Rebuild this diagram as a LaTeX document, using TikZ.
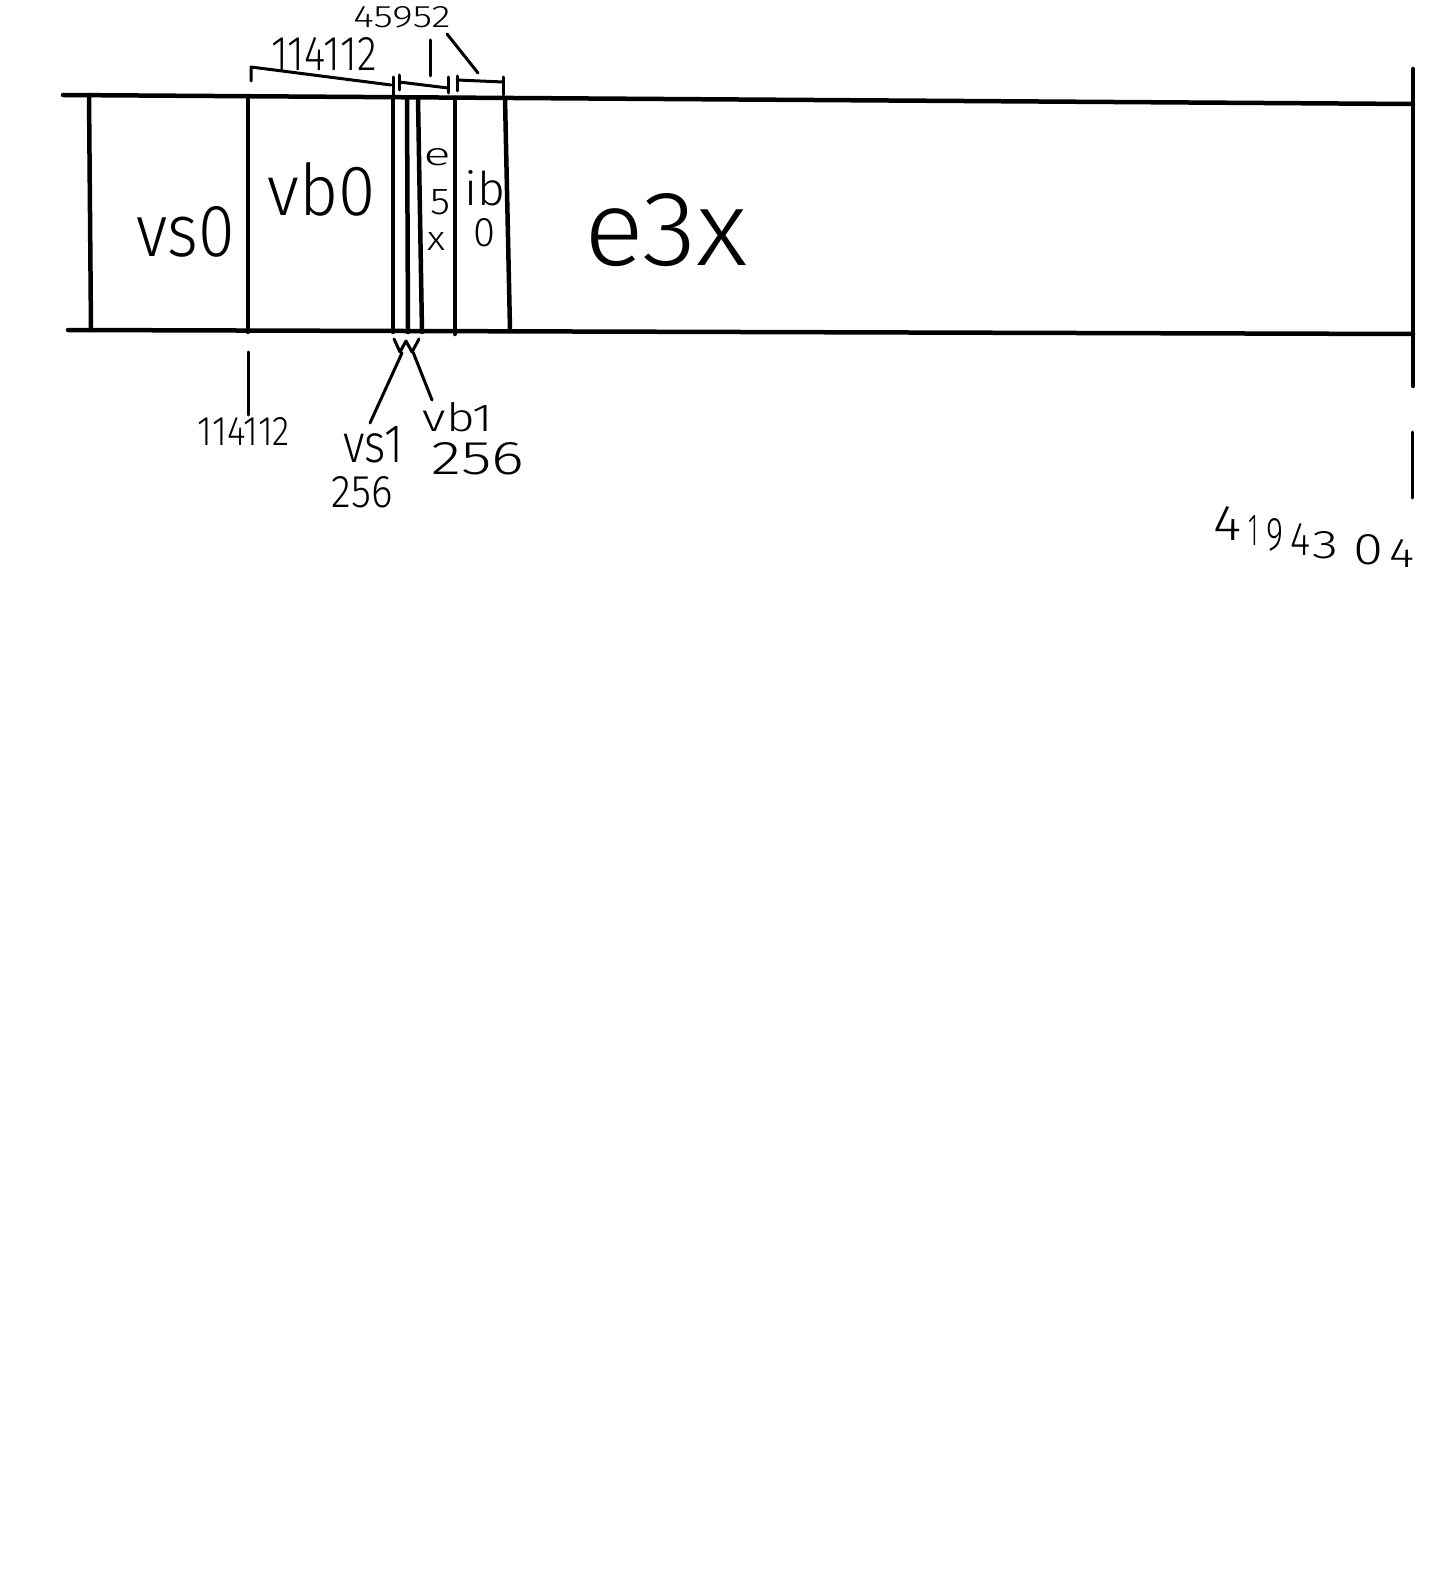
\documentclass[tikz,border=0pt]{standalone}
\usepackage{fontspec}
\newfontfamily\hand{Fira Sans Light}
\tikzset{
  thick line/.style={line width=4.5pt, line cap=round, line join=round},
  thin line/.style={line width=3pt, line cap=round, line join=round},
  lbl/.style={inner sep=0pt, outer sep=0pt, font=\hand},
}
\newcommand{\fitbox}[3]{\resizebox{#1pt}{#2pt}{#3}}
\begin{document}
\begin{tikzpicture}[x=1pt,y=-1pt]
\useasboundingbox[fill=white] (0,0) rectangle (1430,1586);
% main frame
\draw[thick line] (63,95) -- (1413,104);
\draw[thick line] (68,330) -- (1413,334);
\draw[thick line] (1413,69) -- (1413,386);
% region separators
\draw[thick line] (89,95) -- (91,330);
\draw[thick line] (248,97) -- (248,332);
\draw[thick line] (393,98) -- (393,332);
\draw[thick line] (407,98) -- (408,332);
\draw[thick line] (418,98) -- (422,332);
\draw[thick line] (455,98) -- (455,334);
\draw[thick line] (505,98) -- (510,330);
% top brackets
\draw[thin line] (251,81) -- (251,67) -- (391,85);
\draw[thin line] (393,77) -- (393,95);
\draw[thin line] (399,75) -- (399,90);
\draw[thin line] (399,82) -- (448,88);
\draw[thin line] (448,77) -- (448,93);
\draw[thin line] (457,76) -- (457,91);
\draw[thin line] (457,80) -- (503,82);
\draw[thin line] (503,77) -- (503,95);
\draw[thin line] (430,40) -- (430,76);
\draw[thin line] (447,34) -- (478,73);
% bottom marks
\draw[thin line] (248,352) -- (248,415);
\draw[thin line] (394,339) -- (400,352) -- (406,341) -- (412,352) -- (419,339);
\draw[thin line] (402,353) -- (370,423);
\draw[thin line] (413,352) -- (432,400);
\draw[thin line] (1412,432) -- (1412,498);
% labels inside
\node[lbl] (vs0) at (186,232) {\fitbox{98}{50}{vs0}};
\node[lbl] (vb0) at (322,189) {\fitbox{108}{53}{vb0}};
\node[lbl] (e5xa) at (437,157) {\fitbox{27}{17}{e}};
\node[lbl] (e5xb) at (440,202) {\fitbox{20}{25}{5}};
\node[lbl] (e5xc) at (436,241) {\fitbox{18}{18}{x}};
\node[lbl] (ib) at (485,188) {\fitbox{41}{35}{ib}};
\node[lbl] (ibz) at (484,233) {\fitbox{22}{28}{0}};
\node[lbl] (e3x) at (666,230) {\fitbox{163}{72}{e3x}};
% labels outside
\node[lbl] (top1) at (324,54) {\fitbox{105}{33}{114112}};
\node[lbl] (top2) at (402,17) {\fitbox{97}{21}{45952}};
\node[lbl] (bot1) at (244,431) {\fitbox{92}{28}{114112}};
\node[lbl] (vs1) at (373,445) {\fitbox{60}{36}{vs1}};
\node[lbl] (vs1n) at (362,492) {\fitbox{61}{31}{256}};
\node[lbl] (vb1) at (458,417) {\fitbox{70}{29}{vb1}};
\node[lbl] (vb1n) at (478,459) {\fitbox{93}{32}{256}};
% end address, digits along a sloping line
\node[lbl] (d1) at (1227,523) {\fitbox{28}{34}{4}};
\node[lbl] (d2) at (1253,530) {\fitbox{10}{30}{1}};
\node[lbl] (d3) at (1275,535) {\fitbox{17}{32}{9}};
\node[lbl] (d4) at (1300,539) {\fitbox{20}{32}{4}};
\node[lbl] (d5) at (1325,545) {\fitbox{26}{27}{3}};
\node[lbl] (d6) at (1368,550) {\fitbox{30}{30}{0}};
\node[lbl] (d7) at (1402,553) {\fitbox{25}{28}{4}};
\end{tikzpicture}
\end{document}
